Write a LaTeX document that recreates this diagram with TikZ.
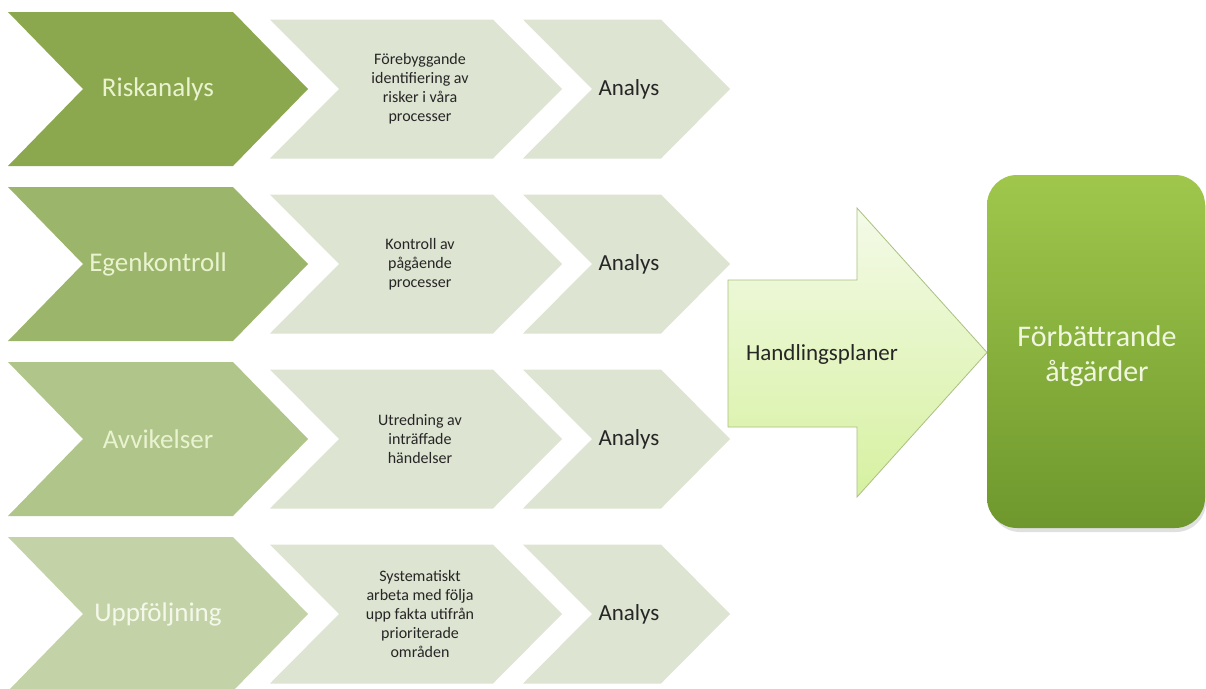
\documentclass[tikz,border=0pt]{standalone}
\usepackage{fontspec}
\setmainfont{Carlito}
\begin{document}
\begin{tikzpicture}[x=1pt,y=-1pt,
  bigtxt/.style={font=\fontsize{27}{30}\selectfont, text=#1, inner sep=0pt},
  smalltxt/.style={font=\fontsize{16}{19}\selectfont, text=black!85, align=center, inner sep=0pt},
  analystxt/.style={font=\fontsize{23}{26}\selectfont, text=black!85, inner sep=0pt},
]
\definecolor{cA}{RGB}{139,168,78}
\definecolor{cB}{RGB}{155,182,106}
\definecolor{cC}{RGB}{175,197,138}
\definecolor{cD}{RGB}{196,211,167}
\definecolor{tA}{RGB}{234,243,208}
\definecolor{tD}{RGB}{244,248,234}
\definecolor{lg}{RGB}{221,228,209}
\definecolor{arrowtop}{RGB}{244,250,232}
\definecolor{arrowbot}{RGB}{214,241,160}
\definecolor{arrowline}{RGB}{170,192,130}
\definecolor{boxtop}{RGB}{160,199,76}
\definecolor{boxbot}{RGB}{110,152,45}
\definecolor{boxtxt}{RGB}{240,246,224}

\useasboundingbox (0,0) rectangle (1206,688);
\clip (0,0) rectangle (1206,688);
\fill[white] (0,0) rectangle (1206,688);

% rows
\foreach \T/\col/\tc/\name/\lbl/\desc in {
  12/cA/tA/r1/Riskanalys/{Förebyggande\\identifiering av\\risker i våra\\processer},
  187/cB/tA/r2/Egenkontroll/{Kontroll av\\pågående\\processer},
  362/cC/tA/r3/Avvikelser/{Utredning av\\inträffade\\händelser},
  537/cD/tD/r4/Uppföljning/{Systematiskt\\arbeta med följa\\upp fakta utifrån\\prioriterade\\områden}}{
  \pgfmathsetmacro{\B}{\T+154}
  \pgfmathsetmacro{\M}{\T+77}
  \pgfmathsetmacro{\t}{\T+7.5}
  \pgfmathsetmacro{\b}{\T+146.5}
  % big chevron
  \fill[\col] (8,\T) -- (233,\T) -- (308,\M) -- (233,\B) -- (8,\B) -- (83,\M) -- cycle;
  % second chevron
  \fill[lg] (270,\t) -- (493,\t) -- (562,\M) -- (493,\b) -- (270,\b) -- (339,\M) -- cycle;
  % third chevron
  \fill[lg] (523,\t) -- (661,\t) -- (730,\M) -- (661,\b) -- (523,\b) -- (592,\M) -- cycle;
  \node[bigtxt=\tc] (\name-a) at (158,\M) {\lbl};
  \node[smalltxt] (\name-b) at (420,\M) {\desc};
  \node[analystxt] (\name-c) at (629,\M) {Analys};
}

% big arrow
\shade[top color=arrowtop, bottom color=arrowbot, draw=arrowline, line width=0.8pt]
  (728,280) -- (857,280) -- (857,208) -- (987,352.5) -- (857,497) -- (857,427) -- (728,427) -- cycle;
\node[font=\fontsize{23}{26}\selectfont, text=black!85, inner sep=0pt] (hp) at (822,354) {Handlingsplaner};

% result box
\fill[black, opacity=0.12, rounded corners=30pt] (990,180) rectangle (1206,532);
\node[rounded corners=30pt, top color=boxtop, bottom color=boxbot,
  minimum width=218pt, minimum height=353pt, inner sep=0pt] (fa) at (1096,351.5) {};
\node[font=\fontsize{30}{35}\selectfont, text=boxtxt, align=center, inner sep=0pt]
  (fa-t) at (1097,356) {Förbättrande\\åtgärder};
\end{tikzpicture}
\end{document}
